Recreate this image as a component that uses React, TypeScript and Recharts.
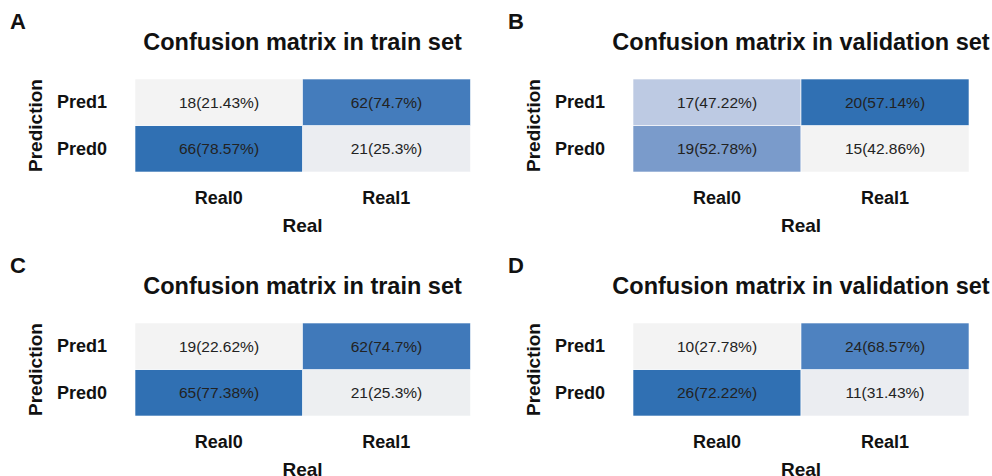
import React from 'react';
import { BarChart, Bar, XAxis, YAxis, Cell, LabelList } from 'recharts';

/* ── Data ─────────────────────────────────────────── */
const REAL_LABELS = ['Real0', 'Real1'];
const PRED_LABELS = ['Pred0', 'Pred1'];

// counts per column (Real0, Real1)
const TRAIN_A_PRED0 = [66, 21];
const TRAIN_A_PRED1 = [18, 62];
const VALID_B_PRED0 = [19, 15];
const VALID_B_PRED1 = [17, 20];
const TRAIN_C_PRED0 = [65, 21];
const TRAIN_C_PRED1 = [19, 62];
const VALID_D_PRED0 = [26, 11];
const VALID_D_PRED1 = [10, 24];

const PANELS = [
    { letter: 'A', title: 'Confusion matrix in train set', pred0: TRAIN_A_PRED0, pred1: TRAIN_A_PRED1, left: 0, top: 0, ml: 135, mr: 26 },
    { letter: 'B', title: 'Confusion matrix in validation set', pred0: VALID_B_PRED0, pred1: VALID_B_PRED1, left: 496, top: 0, ml: 137, mr: 23 },
    { letter: 'C', title: 'Confusion matrix in train set', pred0: TRAIN_C_PRED0, pred1: TRAIN_C_PRED1, left: 0, top: 244, ml: 135, mr: 26 },
    { letter: 'D', title: 'Confusion matrix in validation set', pred0: VALID_D_PRED0, pred1: VALID_D_PRED1, left: 496, top: 244, ml: 137, mr: 23 },
];

const FONT = '"Liberation Sans", Arial, Helvetica, sans-serif';
const W = 496;
const H = 240;

/* ── Colour map: light grey → blue ────────────────── */
const STOPS: [number, number[]][] = [
    [0, [243, 243, 243]],
    [0.4, [189, 202, 227]],
    [0.8, [122, 155, 203]],
    [0.875, [78, 130, 192]],
    [1, [48, 112, 179]],
];

const cmap = (t: number) => {
    for (let i = 1; i < STOPS.length; i++) {
        const [t1, c1] = STOPS[i];
        const [t0, c0] = STOPS[i - 1];
        if (t <= t1) {
            const f = (t - t0) / (t1 - t0);
            const c = c0.map((v, k) => Math.round(v + (c1[k] - v) * f));
            return `rgb(${c[0]},${c[1]},${c[2]})`;
        }
    }
    const c = STOPS[STOPS.length - 1][1];
    return `rgb(${c[0]},${c[1]},${c[2]})`;
};

const fmt = (n: number, total: number) => `${n}(${parseFloat(((n / total) * 100).toFixed(2))}%)`;

/* ── Ticks ────────────────────────────────────────── */
const XTick = (props: any) => {
    const { x, y, payload } = props;
    return (
        <text x={x} y={y + 32} textAnchor="middle" fontFamily={FONT} fontWeight="bold" fontSize={18} fill="#111">
            {payload.value}
        </text>
    );
};

const YTick = (props: any) => {
    const { x, y, payload } = props;
    return (
        <text x={x} y={y + 6} textAnchor="end" fontFamily={FONT} fontWeight="bold" fontSize={18} fill="#111">
            {payload.value > 1 ? PRED_LABELS[1] : PRED_LABELS[0]}
        </text>
    );
};

/* ── One confusion matrix ─────────────────────────── */
type PanelProps = typeof PANELS[number];

const Panel: React.FC<{ p: PanelProps }> = ({ p }) => {
    const all = [...p.pred0, ...p.pred1];
    const lo = Math.min(...all);
    const hi = Math.max(...all);
    const color = (v: number) => cmap((v - lo) / (hi - lo));

    const table = REAL_LABELS.map((real, i) => {
        const total = p.pred0[i] + p.pred1[i];
        return {
            real,
            cell0: 1,
            cell1: 1,
            n0: p.pred0[i],
            n1: p.pred1[i],
            lab0: fmt(p.pred0[i], total),
            lab1: fmt(p.pred1[i], total),
        };
    });

    const plotTop = 79;
    const plotBottom = H - 68;
    const cx = p.ml + (W - p.ml - p.mr) / 2;
    const cy = (plotTop + plotBottom) / 2;

    return (
        <div style={{ position: 'absolute', left: p.left, top: p.top, width: W, height: H }}>
            <BarChart
                width={W}
                height={H}
                data={table}
                margin={{ top: plotTop, right: p.mr, bottom: 0, left: 0 }}
                barCategoryGap={0}
                barGap={0}
            >
                <XAxis
                    dataKey="real"
                    height={68}
                    tick={<XTick />}
                    tickSize={0}
                    tickMargin={0}
                    axisLine={false}
                    tickLine={false}
                    interval={0}
                />
                <YAxis
                    type="number"
                    domain={[0, 2]}
                    ticks={[0.5, 1.5]}
                    width={p.ml}
                    tick={<YTick />}
                    tickSize={0}
                    tickMargin={28}
                    axisLine={false}
                    tickLine={false}
                />
                <Bar dataKey="cell0" stackId="cm" isAnimationActive={false} stroke="#ffffff" strokeOpacity={0.6} strokeWidth={1}>
                    {table.map((d) => (
                        <Cell key={`p0-${d.real}`} fill={color(d.n0)} />
                    ))}
                    <LabelList dataKey="lab0" position="center" fill="#222" fontSize={15.5} fontFamily={FONT} />
                </Bar>
                <Bar dataKey="cell1" stackId="cm" isAnimationActive={false} stroke="#ffffff" strokeOpacity={0.6} strokeWidth={1}>
                    {table.map((d) => (
                        <Cell key={`p1-${d.real}`} fill={color(d.n1)} />
                    ))}
                    <LabelList dataKey="lab1" position="center" fill="#222" fontSize={15.5} fontFamily={FONT} />
                </Bar>
            </BarChart>
            <svg width={W} height={H} style={{ position: 'absolute', left: 0, top: 0, pointerEvents: 'none' }}>
                <text x={p.left ? 12 : 10} y={29} fontFamily={FONT} fontWeight="bold" fontSize={22} fill="#111">
                    {p.letter}
                </text>
                <text x={cx} y={50} textAnchor="middle" fontFamily={FONT} fontWeight="bold" fontSize={23.5} fill="#111">
                    {p.title}
                </text>
                <text
                    x={p.ml - 93}
                    y={cy}
                    textAnchor="middle"
                    transform={`rotate(-90, ${p.ml - 93}, ${cy})`}
                    fontFamily={FONT}
                    fontWeight="bold"
                    fontSize={19}
                    fill="#111"
                >
                    Prediction
                </text>
                <text x={cx} y={plotBottom + 60} textAnchor="middle" fontFamily={FONT} fontWeight="bold" fontSize={19} fill="#111">
                    Real
                </text>
            </svg>
        </div>
    );
};

const App: React.FC = () => (
    <div style={{ position: 'absolute', left: 0, top: 0, width: 992, height: 476, background: '#fff', overflow: 'hidden' }}>
        {PANELS.map((p) => (
            <Panel key={p.letter} p={p} />
        ))}
    </div>
);

export default App;
